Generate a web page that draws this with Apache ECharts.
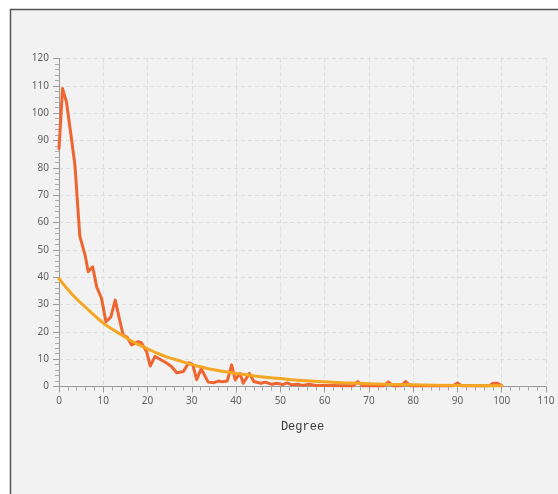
<!DOCTYPE html>
<html>
<head>
<meta charset="utf-8">
<script src="https://cdn.jsdelivr.net/npm/echarts@6/dist/echarts.min.js"></script>
<style>
  html, body { margin: 0; padding: 0; background: #ffffff; }
  #chart { width: 558px; height: 494px; }
</style>
</head>
<body>
<div id="chart"></div>
<script>
// Observed degree distribution (degree, count)
const degree = [0, 0.8, 1.7, 2.7, 3.6, 4.7, 5.9, 6.6, 7.6, 8.5, 9.6, 10.6, 11.7, 12.7, 13.6, 14.5,
  15.4, 16.4, 17.9, 18.6, 19.8, 20.6, 21.7, 23, 24.3, 25.4, 26.6, 28.1, 29.3, 30.2, 31.1, 32.1,
  33.7, 35, 36, 36.8, 38, 39, 39.8, 40.9, 41.6, 43, 44, 45.6, 46.6, 48.1, 49.2, 50.5, 51.5, 52.6,
  54, 55, 56.5, 58, 60, 66.5, 67.5, 68.5, 73.4, 74.4, 75.4, 77.3, 78.3, 79.3, 89, 90, 91, 97.3,
  98, 99, 100];
const count = [87, 109, 104, 92, 81, 55, 48, 42, 43.8, 36.5, 32.3, 23.7, 25.4, 31.6, 25, 18.8,
  18, 15.2, 16.4, 16, 12.7, 7.5, 11, 9.8, 8.6, 7.3, 5, 5.5, 8.7, 8, 2.5, 6.5,
  1.6, 1.4, 2, 1.7, 2, 7.9, 2.4, 4.8, 1.2, 4.8, 1.8, 1.2, 1.6, 0.8, 1.2, 0.7, 1.3, 0.6,
  0.8, 0.4, 0.8, 0.4, 0.4, 0.3, 1.8, 0.3, 0.3, 1.7, 0.3, 0.3, 1.8, 0.3, 0.3, 1.3, 0.3, 0.3,
  1.2, 1.2, 0.3];

// Fitted trend
const fitDegree = [0, 2, 4, 6, 8, 10, 12, 14, 16, 18, 20, 22, 24, 26, 28, 30, 32, 35, 40, 45,
  50, 55, 60, 65, 70, 80, 90, 100];
const fitCount = [39.5, 35.5, 32, 29, 26, 23.2, 21, 19, 17, 15.3, 13.8, 12.3, 11, 10, 9, 8, 7.2,
  6.1, 4.8, 3.7, 2.9, 2.2, 1.7, 1.3, 1.0, 0.6, 0.4, 0.3];

const xTicks = { min: 0, max: 110, interval: 10 };
const yTicks = { min: 0, max: 120, interval: 10 };
const xTitle = 'Degree';

const pairs = (xs, ys) => xs.map((x, i) => [x, ys[i]]);

const chart = echarts.init(document.getElementById('chart'), null, { renderer: 'canvas' });

const axisCommon = {
  axisLine: { show: true, lineStyle: { color: '#9a9a9a', width: 1 } },
  axisTick: { show: true, length: 6, lineStyle: { color: '#9a9a9a' } },
  minorTick: { show: true, splitNumber: 5, length: 4, lineStyle: { color: '#aaaaaa' } },
  splitLine: { show: true, lineStyle: { color: '#dedede', type: [4, 3], width: 1 } },
  axisLabel: { color: '#606060', fontSize: 10, fontFamily: 'Noto Sans' }
};

chart.setOption({
  backgroundColor: '#ffffff',
  animation: false,
  graphic: [{
    type: 'rect',
    z: -10,
    shape: { x: 10.5, y: 9.5, width: 700, height: 700 },
    style: { fill: '#f2f2f2', stroke: '#555555', lineWidth: 1.5 }
  }],
  grid: { left: 59, right: 12, top: 58.5, bottom: 107.5, containLabel: false },
  xAxis: Object.assign({}, axisCommon, {
    type: 'value',
    min: xTicks.min, max: xTicks.max, interval: xTicks.interval,
    name: xTitle,
    nameLocation: 'middle',
    nameGap: 34,
    nameTextStyle: { fontFamily: 'Liberation Mono', fontSize: 12, color: '#3a3a3a' },
    axisLabel: Object.assign({}, axisCommon.axisLabel, { margin: 10 })
  }),
  yAxis: Object.assign({}, axisCommon, {
    type: 'value',
    min: yTicks.min, max: yTicks.max, interval: yTicks.interval,
    axisLabel: Object.assign({}, axisCommon.axisLabel, { margin: 10 })
  }),
  series: [
    {
      type: 'line',
      data: pairs(degree, count),
      showSymbol: false,
      lineStyle: { color: '#ef6530', width: 3, cap: 'round', join: 'round' },
      z: 2
    },
    {
      type: 'line',
      data: pairs(fitDegree, fitCount),
      smooth: true,
      showSymbol: false,
      lineStyle: { color: '#f5a623', width: 3, cap: 'round', join: 'round' },
      z: 3
    }
  ]
});
</script>
</body>
</html>
